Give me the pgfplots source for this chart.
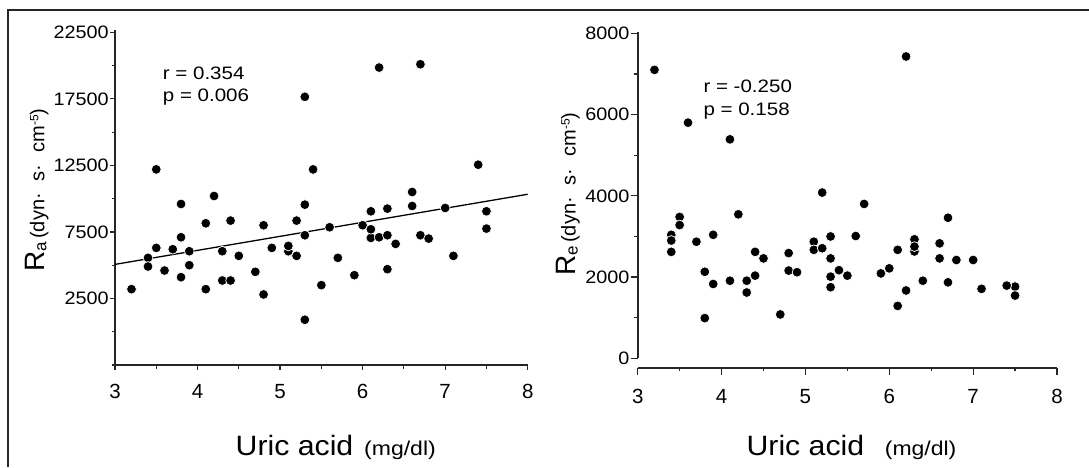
\documentclass[border=0pt]{standalone}
\usepackage{fontspec}
\setmainfont{Liberation Sans}
\usepackage{pgfplots}
\pgfplotsset{compat=1.18}

\pgfplotstableread{
x y
3.4 5550
5.1 6050
6.1 7050
3.2 3200
3.4 4900
3.5 12200
3.5 6300
3.6 4600
3.7 6200
3.8 9600
3.8 7100
3.8 4100
3.9 6050
3.9 5000
4.1 3200
4.1 8150
4.2 10200
4.3 6050
4.3 3850
4.4 8350
4.4 3850
4.5 5700
4.7 4500
4.8 8000
4.8 2800
4.9 6300
5.1 6450
5.2 8350
5.2 5700
5.3 17650
5.3 9550
5.3 7250
5.3 900
5.4 12200
5.5 3500
5.6 7850
5.7 5550
5.9 4250
6.0 8000
6.1 9050
6.1 7700
6.2 19850
6.2 7100
6.3 9250
6.3 7250
6.3 4700
6.4 6600
6.6 10500
6.6 9450
6.7 20100
6.7 7250
6.8 7000
7.0 9300
7.1 5700
7.4 12550
7.5 9050
7.5 7750
}\rawdata

\pgfplotstableread{
x y
3.4 3040
3.5 3480
6.3 2930
6.3 2630
7.5 1765
3.2 7100
3.4 2900
3.4 2620
3.5 3280
3.6 5800
3.7 2870
3.8 2130
3.8 990
3.9 3040
3.9 1830
4.1 5390
4.1 1910
4.2 3545
4.3 1910
4.3 1620
4.4 2620
4.4 2035
4.5 2460
4.7 1080
4.8 2590
4.8 2160
4.9 2120
5.1 2870
5.1 2670
5.2 4080
5.2 2710
5.3 3000
5.3 2460
5.3 2010
5.3 1750
5.4 2170
5.5 2035
5.6 3010
5.7 3800
5.9 2090
6.0 2215
6.1 2670
6.1 1290
6.2 7430
6.2 1670
6.3 2750
6.4 1910
6.6 2830
6.6 2460
6.7 3460
6.7 1870
6.8 2420
7.0 2420
7.1 1710
7.4 1790
7.5 1545
}\redata

\pgfplotsset{
  uaplot/.style={
    scale only axis,
    xmin=3, xmax=8,
    axis x line*=bottom, axis y line*=left,
    axis line style={-, line width=1.6pt, black!85},
    every tick/.style={black!85, line width=1.2pt},
    tick align=outside,
    xtick={3,4,...,8}, minor xtick={3.5,4.5,...,7.5},
    major tick length=7pt, minor tick length=3.5pt,
    scaled y ticks=false,
    xticklabel style={font=\fontsize{20.5}{20.5}\selectfont, inner sep=1pt, yshift=-13pt},
    yticklabel style={font=\fontsize{18}{18}\selectfont, xscale=1.1, inner sep=1pt},
    /pgf/number format/assume math mode=true,
    /pgf/number format/set thousands separator={},
    clip=false,
  },
  dots/.style={only marks, mark=*, mark size=4.9pt,
    mark options={fill=black, draw=white, line width=0.7pt}},
}

\begin{document}
\begin{tikzpicture}
\path[use as bounding box] (0,0) rectangle (1089pt,467pt);
\draw[line width=2.2pt, black!85] (7.6pt,0) -- (7.6pt,457pt) -- (1089pt,457pt);

% left panel
\begin{axis}[uaplot,
  at={(115pt,102pt)}, anchor=south west,
  width=412.7pt, height=335pt,
  ymin=-2500, ymax=22673,
  ytick={2500,7500,12500,17500,22500},
  minor ytick={-2500,0,5000,10000,15000,20000},
  major tick length=5pt,
]
\addplot[black, line width=1.3pt] coordinates {(3,5060) (8,10330)};
\addplot[dots] table[x=x, y=y] {\rawdata};
\end{axis}

% right panel
\begin{axis}[uaplot,
  at={(637.7pt,99.3pt)}, anchor=south west,
  width=419.3pt, height=336pt,
  ymin=-231, ymax=8040,
  ytick={0,2000,...,8000},
  minor ytick={1000,3000,5000,7000},
  y axis line style={draw=none},
]
\draw[line width=1.6pt, black!85] (axis cs:3,0) -- (axis cs:3,8040);
\addplot[dots] table[x=x, y=y] {\redata};
\end{axis}

% annotations
\begin{scope}[every node/.style={anchor=base west, inner sep=0pt, font=\fontsize{18}{18}\selectfont, xscale=1.14}]
\node at (162.7pt,387.7pt) {r = 0.354};
\node at (162.7pt,365.3pt) {p = 0.006};
\node at (703.3pt,374.3pt) {r = -0.250};
\node at (703.3pt,352pt) {p = 0.158};
\end{scope}

% x labels
\node[anchor=base west, inner sep=0pt, font=\fontsize{28}{28}\selectfont, xscale=1.08] at (235.5pt,12pt) {Uric acid};
\node[anchor=base west, inner sep=0pt, font=\fontsize{20}{20}\selectfont, xscale=1.15] at (364pt,12pt) {(mg/dl)};
\node[anchor=base west, inner sep=0pt, font=\fontsize{28}{28}\selectfont, xscale=1.08] at (746.4pt,12pt) {Uric acid};
\node[anchor=base west, inner sep=0pt, font=\fontsize{20}{20}\selectfont, xscale=1.15] at (884.6pt,12pt) {(mg/dl)};

% y labels
\node[rotate=90, anchor=base, inner sep=0pt] at (44.3pt,277pt)
  {\fontsize{28}{28}\selectfont R\raisebox{-2pt}{\fontsize{17}{17}\selectfont a}\hspace{3pt}\fontsize{20}{20}\selectfont(dyn·\hspace{0.6em}s·\hspace{0.6em}cm\raisebox{6pt}{\fontsize{12}{12}\selectfont -5})};
\node[rotate=90, anchor=base, inner sep=0pt] at (575.6pt,273pt)
  {\fontsize{28}{28}\selectfont R\raisebox{-2pt}{\fontsize{17}{17}\selectfont e}\hspace{3pt}\fontsize{20}{20}\selectfont(dyn·\hspace{0.6em}s·\hspace{0.6em}cm\raisebox{6pt}{\fontsize{12}{12}\selectfont -5})};
\end{tikzpicture}
\end{document}
